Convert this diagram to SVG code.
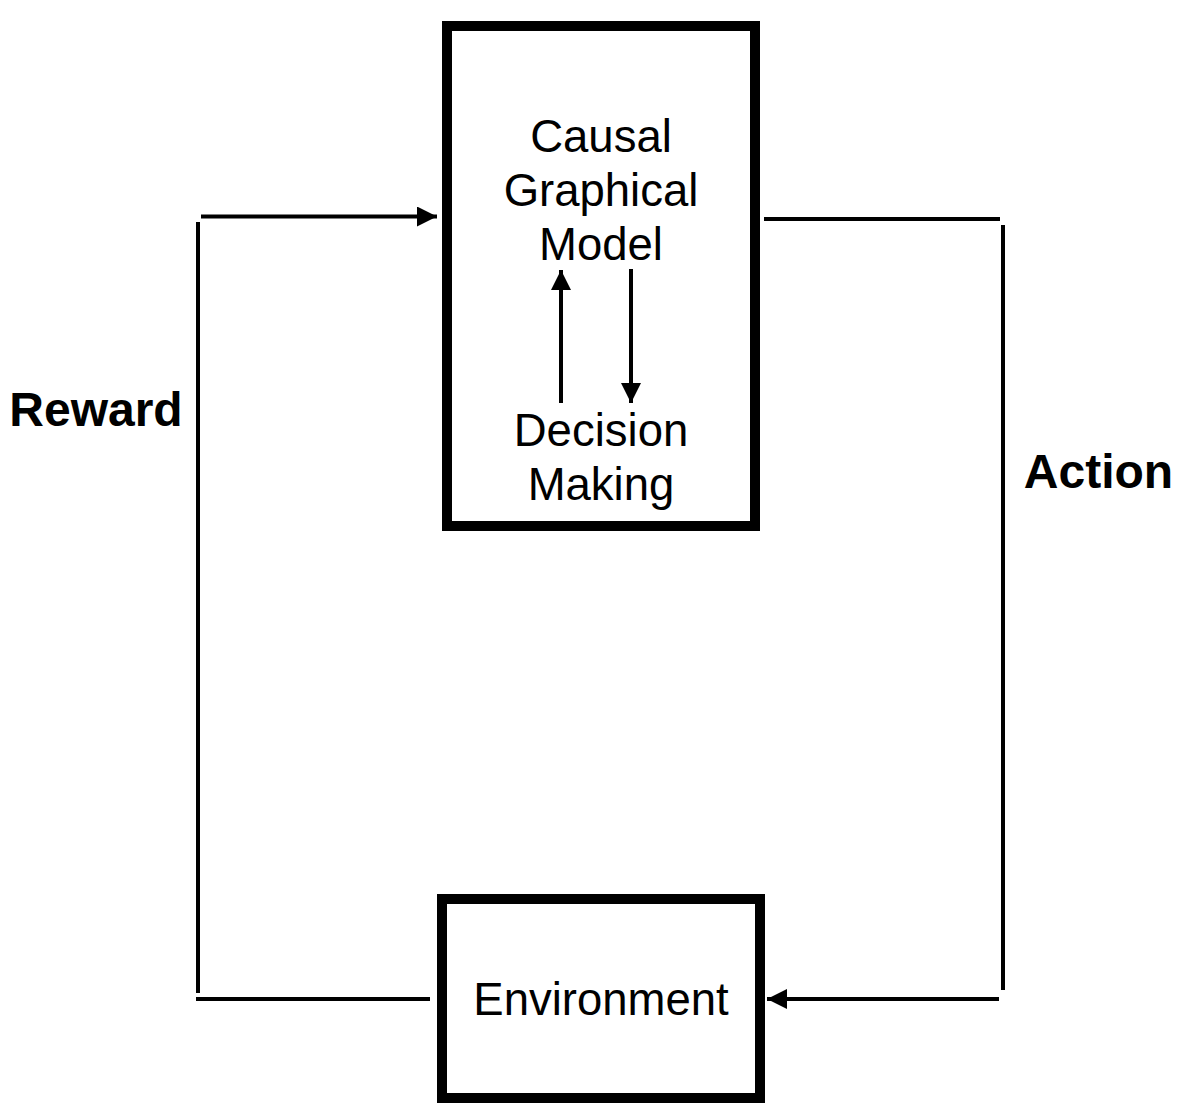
<svg xmlns="http://www.w3.org/2000/svg" width="1185" height="1112" viewBox="0 0 1185 1112">
<defs>
<style>
.box{fill:#fff;stroke:#000;stroke-width:10}
.ln{fill:none;stroke:#000;stroke-width:4}
.t{font-family:"Liberation Sans",Arial,sans-serif;font-size:45.5px;fill:#000;text-anchor:middle}
.b{font-family:"Liberation Sans",Arial,sans-serif;font-size:48px;font-weight:bold;fill:#000;text-anchor:middle}
</style>
<marker id="ah" viewBox="0 0 20 20" refX="20" refY="10" markerWidth="20" markerHeight="20" markerUnits="userSpaceOnUse" orient="auto">
<path d="M0,0 L20,10 L0,20 Z" fill="#000"/>
</marker>
</defs>
<rect width="1185" height="1112" fill="#fff"/>
<g id="agent">
<rect class="box" x="447" y="26" width="308" height="500"/>
<text class="t" x="601" y="152">Causal</text>
<text class="t" x="601" y="206">Graphical</text>
<text class="t" x="601" y="260">Model</text>
<text class="t" x="601" y="446">Decision</text>
<text class="t" x="601" y="500">Making</text>
</g>
<g id="environment">
<rect class="box" x="442" y="899" width="318" height="199"/>
<text class="t" x="601" y="1015">Environment</text>
</g>
<g id="labels">
<text class="b" x="96" y="426">Reward</text>
<text class="b" x="1098.5" y="488">Action</text>
</g>
<g id="connectors">
<line class="ln" x1="201" y1="216.5" x2="437" y2="216.5" marker-end="url(#ah)"/>
<line class="ln" x1="198" y1="222" x2="198" y2="993"/>
<line class="ln" x1="196" y1="999" x2="430" y2="999"/>
<line class="ln" x1="764" y1="219" x2="1000" y2="219"/>
<line class="ln" x1="1003" y1="225" x2="1003" y2="990"/>
<line class="ln" x1="999" y1="999" x2="767" y2="999" marker-end="url(#ah)"/>
<line class="ln" x1="561" y1="403" x2="561" y2="270" marker-end="url(#ah)"/>
<line class="ln" x1="631" y1="269" x2="631" y2="403" marker-end="url(#ah)"/>
</g>
</svg>
